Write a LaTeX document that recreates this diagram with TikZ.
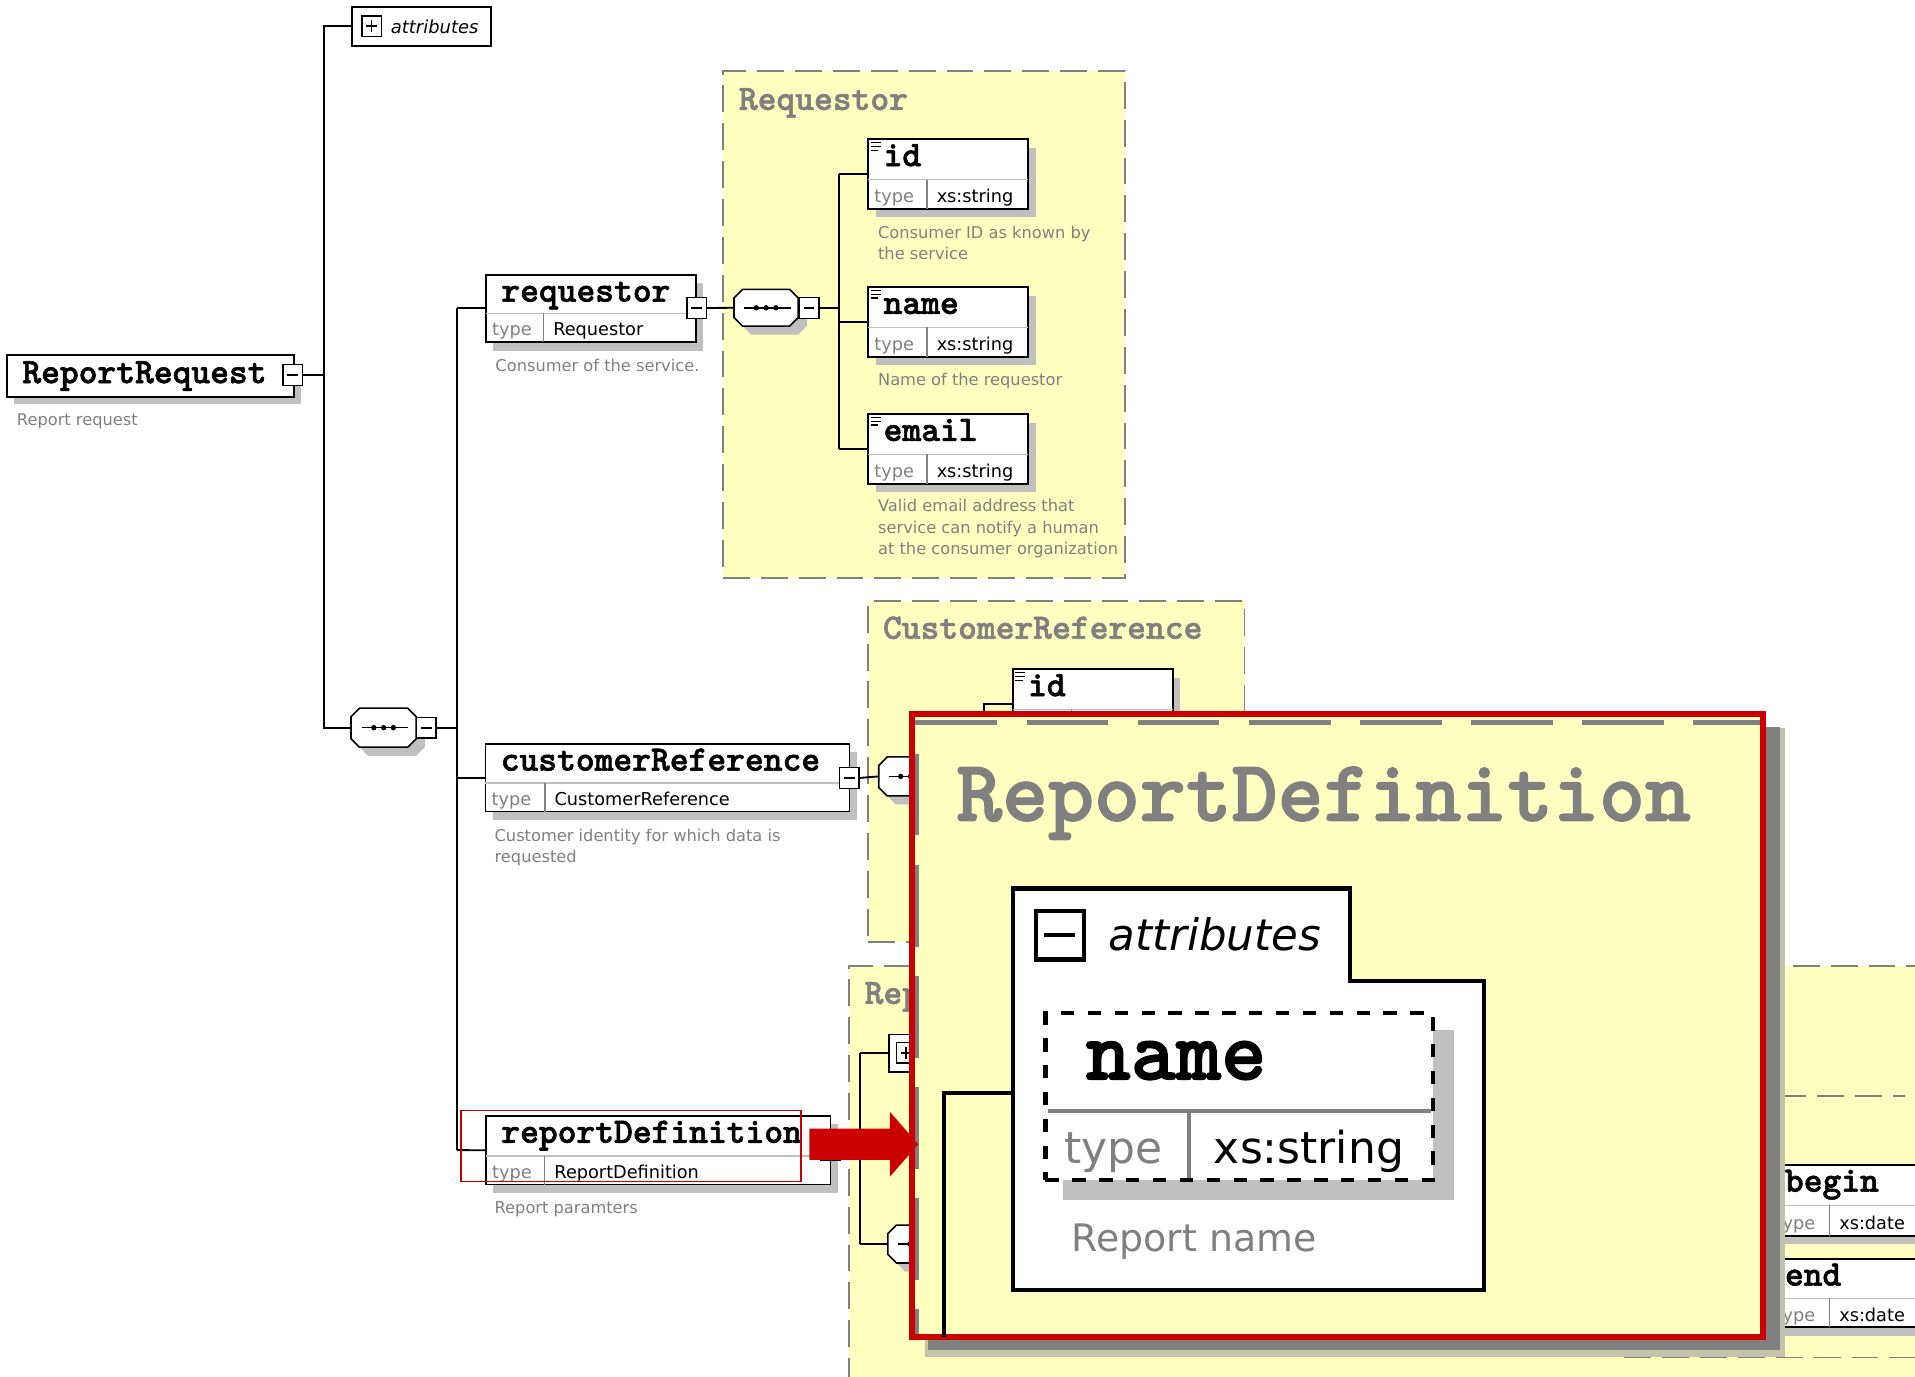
\documentclass[tikz,border=0pt]{standalone}
\usepackage{fontspec}
\setmainfont{DejaVu Sans}[ItalicFont={DejaVu Sans Oblique}]
\newfontfamily\slab{lmmonolt10-bold.otf}[FakeBold=1.6]
\usetikzlibrary{arrows.meta}
\definecolor{ylw}{RGB}{255,255,192}
\definecolor{dgray}{RGB}{128,128,128}
\definecolor{lgray}{RGB}{192,192,192}
\definecolor{zred}{RGB}{204,0,0}
\definecolor{hatch}{RGB}{196,196,170}
\tikzset{
 every node/.style={inner sep=0pt, outer sep=0pt},
 elbox/.style={draw, line width=1.5pt, fill=white, anchor=north west},
 nmtxt/.style={font=\slab\fontsize{29.3}{32}\selectfont, anchor=base west},
 tytxt/.style={font=\fontsize{14.5}{16}\selectfont, text=dgray, anchor=base west},
 tvtxt/.style={font=\fontsize{14.5}{16}\selectfont, text=black, anchor=base west},
 desc/.style={font=\fontsize{13.3}{16}\selectfont, text=dgray, anchor=base west},
 grp/.style={draw=dgray, line width=1.5pt, dash pattern=on 22pt off 9pt, fill=ylw, anchor=north west},
 grptitle/.style={font=\slab\fontsize{29.3}{32}\selectfont, text=dgray, anchor=base west},
 conn/.style={line width=1.5pt},
 pmbox/.style={draw, line width=1.3pt, fill=white, minimum width=16pt, minimum height=17pt},
 octo/.style={draw, line width=1.3pt, fill=white},
 attrbox/.style={draw, line width=1.5pt, fill=white, anchor=north west},
}
\newcommand\minusbox[3]{\node[pmbox] (#1) at (#2,#3) {};\draw[line width=1.3pt] ([xshift=3.5pt]#1.west) -- ([xshift=-3.5pt]#1.east);}
\newcommand\plusbox[3]{\minusbox{#1}{#2}{#3}\draw[line width=1.3pt] ([yshift=3.5pt]#1.south) -- ([yshift=-3.5pt]#1.north);}
\newcommand\fixicon[2]{\draw[line width=0.9pt] ({#1+2},{#2+3}) -- ++(8,0) ({#1+2},{#2+6}) -- ++(8,0) ({#1+2},{#2+9}) -- ++(6,0);}
\newcommand\octa[5]{%
 \fill[lgray] ({#2-#4+14},{#3-#5+7}) -- ({#2+#4},{#3-#5+7}) -- ({#2+#4+7},{#3-#5+14}) -- ({#2+#4+7},{#3+#5}) -- ({#2+#4},{#3+#5+7}) -- ({#2-#4+14},{#3+#5+7}) -- ({#2-#4+7},{#3+#5}) -- ({#2-#4+7},{#3-#5+14}) -- cycle;
 \draw[octo] ({#2-#4+7},{#3-#5}) -- ({#2+#4-7},{#3-#5}) -- ({#2+#4},{#3-#5+7}) -- ({#2+#4},{#3+#5-7}) -- ({#2+#4-7},{#3+#5}) -- ({#2-#4+7},{#3+#5}) -- ({#2-#4},{#3+#5-7}) -- ({#2-#4},{#3-#5+7}) -- cycle;
 \node[minimum width={2*#4pt}, minimum height={2*#5pt}] (#1) at (#2,#3) {};
 \draw[line width=1.3pt] ({#2-18},#3) -- ({#2+20},#3);
 \foreach \d in {-8,0,8} \fill ({#2+\d},#3) circle (2.2);
}
\newcommand\elemtwo[9]{%
 \fill[lgray] ({#2+6},{#3+7}) rectangle ({#2+#4+6},{#3+#5+7});
 \node[elbox, minimum width=#4pt, minimum height=#5pt] (#1) at (#2,#3) {};
 \draw[lgray, line width=1.2pt] ({#2},{#3+#6}) -- ({#2+#4},{#3+#6});
 \draw[dgray, line width=1.2pt] ({#2+#7},{#3+#6}) -- ({#2+#7},{#3+#5});
 \node[nmtxt] (#1n) at ({#2+12.5},{#3+22}) {#8};
 \node[tytxt] (#1t) at ({#2+5},{#3+#5-5}) {type};
 \node[tvtxt] (#1v) at ({#2+#7+8},{#3+#5-5}) {#9};
}
\begin{document}
\begin{tikzpicture}[x=1pt,y=-1pt]
\useasboundingbox (0,0) rectangle (1568,1127);
\clip (0,0) rectangle (1568,1127);
\fill[white] (0,0) rectangle (1568,1127);

% ---------- type groups ----------
\node[grp, minimum width=329pt, minimum height=415pt] (gReq) at (592,58) {};
\node[grptitle] (gReqT) at (605,90) {Requestor};
\node[grp, minimum width=308pt, minimum height=279pt] (gCust) at (711,492) {};
\node[grptitle] (gCustT) at (723,523) {CustomerReference};
\node[grp, minimum width=1000pt, minimum height=500pt] (gRep) at (695,791) {};
\node[grptitle] (gRepT) at (708,822) {Rep};
\coordinate (inA) at (1457,897.4); \coordinate (inB) at (1560,897.4);
\draw[dgray, line width=1.5pt, dash pattern=on 22pt off 9pt] (inA) -- (inB);
\coordinate (inC) at (1330,1111.5); \coordinate (inD) at (1568,1111.5);
\draw[dgray, line width=1.5pt, dash pattern=on 22pt off 9pt] (inC) -- (inD);

% ---------- root ----------
\node[attrbox, minimum width=114pt, minimum height=32pt] (attrTop) at (288,5.5) {};
\plusbox{attrTopP}{304.3}{21.5}
\node[font=\itshape\fontsize{14.7}{16}\selectfont, anchor=base west] (attrTopT) at (320,27.3) {attributes};

\fill[lgray] (11.5,298) rectangle (246.6,331);
\node[elbox, minimum width=235pt, minimum height=34pt] (rr) at (5.5,291) {};
\node[nmtxt] (rrn) at (18.3,313.7) {ReportRequest};
\minusbox{rrm}{239.6}{307}
\node[desc] (rrd) at (13.9,348) {Report request};

\octa{seqM}{314.1}{595.8}{26.7}{16}
\minusbox{seqMm}{349.1}{595.9}

% ---------- children of the root sequence ----------
\elemtwo{req}{398}{225}{172}{55}{31.6}{47}{requestor}{Requestor}
\minusbox{reqm}{570.5}{252.2}
\node[desc] (reqd) at (405.7,304.3) {Consumer of the service.};

\elemtwo{cr}{397.5}{609}{298}{55.5}{32.3}{48.6}{customerReference}{CustomerReference}
\minusbox{crm}{695.3}{637}
\node[desc] (crd1) at (405,689) {Customer identity for which data is};
\node[desc] (crd2) at (405,706) {requested};

\elemtwo{rd}{398}{913.7}{282}{56.2}{33}{48}{reportDefinition}{ReportDefinition}
\minusbox{rdm}{680}{941.7}
\node[desc] (rdd) at (405,994) {Report paramters};

% ---------- Requestor content ----------
\octa{seqR}{627.3}{252}{26.3}{15}
\minusbox{seqRm}{662.4}{252.2}
\elemtwo{rid}{711}{114}{131}{57}{33}{48}{id}{xs:string}\fixicon{711}{114}
\elemtwo{rnm}{711}{235}{131}{57}{33}{48}{name}{xs:string}\fixicon{711}{235}
\elemtwo{rem}{711}{339}{131}{57}{33}{48}{email}{xs:string}\fixicon{711}{339}
\node[desc] (ridd1) at (719,195) {Consumer ID as known by};
\node[desc] (ridd2) at (719,212.5) {the service};
\node[desc] (rnmd) at (719,315.5) {Name of the requestor};
\node[desc] (remd1) at (719,419) {Valid email address that};
\node[desc] (remd2) at (719,436.5) {service can notify a human};
\node[desc] (remd3) at (719,454) {at the consumer organization};

% ---------- CustomerReference content ----------
\octa{seqC}{745.5}{635.7}{26}{16}
\elemtwo{cid}{829.3}{548}{131.2}{57}{33}{48}{id}{xs:string}\fixicon{829.3}{548}

% ---------- ReportDefinition content ----------
\node[attrbox, minimum width=114pt, minimum height=31pt] (rdA) at (728,847) {};
\plusbox{rdAp}{742}{862}
\octa{seqD}{753}{1018.6}{26}{15.5}
\elemtwo{bg}{1449}{953.7}{200}{58}{33.3}{49}{begin}{xs:date}
\elemtwo{en}{1449}{1030.6}{200}{56.2}{32.4}{49}{end}{xs:date}

% ---------- connectors ----------
\coordinate (v1t) at (265,21.5);
\coordinate (v1b) at (265,595.8);
\draw[conn] (attrTop.west) -- (v1t) -- (v1b) -- (seqM.west);
\draw[conn] (rrm.east) -- (rrm.east -| v1t);
\coordinate (v2t) at (374,252.5);
\coordinate (v2b) at (374,941.7);
\draw[conn] (seqMm.east) -- (seqMm.east -| v2t);
\draw[conn] (v2t) -- (v2b);
\draw[conn] (v2t) -- (req.west);
\draw[conn] (cr.west -| v2t) -- (cr.west);
\draw[conn] (v2b) -- (rd.west);
\draw[conn] (reqm.east) -- (seqR.west);
\coordinate (v3t) at (687,142.5);
\coordinate (v3b) at (687,367.5);
\draw[conn] (seqRm.east) -- (seqRm.east -| v3t);
\draw[conn] (v3t) -- (v3b);
\draw[conn] (v3t) -- (rid.west);
\draw[conn] (rnm.west -| v3t) -- (rnm.west);
\draw[conn] (v3b) -- (rem.west);
\draw[conn] (crm.east) -- (seqC.west);
\coordinate (v4b) at (805.7,640);
\draw[conn] (v4b) |- (cid.west);
\coordinate (v5t) at (704.3,862.5);
\coordinate (v5b) at (704.3,1018.6);
\draw[conn] (rdm.east) -- (rdm.east -| v5t);
\draw[conn] (v5t) -- (v5b);
\draw[conn] (v5t) -- (rdA.west);
\draw[conn] (v5b) -- (seqD.west);

% highlight of the reportDefinition element
\node[draw=zred, line width=1.2pt, minimum width=278.5pt, minimum height=58pt, anchor=north west] (hl) at (377.5,909.3) {};

% ---------- magnified view ----------
\fill[hatch] (757,1097) rectangle (1461.6,1110.9);
\fill[hatch] (1446,596) rectangle (1461.6,1110.9);
\fill[dgray] (760,1097) rectangle (1457.5,1105.4);
\fill[dgray] (1446,595.6) rectangle (1457.5,1105.4);
\node[draw=zred, line width=5pt, fill=ylw, anchor=north west, minimum width=696.8pt, minimum height=509.7pt] (zb) at (747,584.8) {};
\coordinate (zdA) at (749.5,591.5); \coordinate (zdB) at (1441,591.5);
\draw[dgray, line width=3.5pt, dash pattern=on 67pt off 24pt] (zdA) -- (zdB);
\coordinate (zdC) at (750.8,617); \coordinate (zdD) at (750.8,1092);
\draw[dgray, line width=2.6pt, dash pattern=on 67pt off 24pt] (zdC) -- (zdD);
\node[font=\slab\fontsize{71.6}{80}\selectfont, text=dgray, anchor=base west] (zt) at (783,672) {ReportDefinition};
\draw[line width=3.5pt, fill=white] (829.3,727.4) -- (1105.5,727.4) -- (1105.5,803.5) -- (1215.3,803.5) -- (1215.3,1056.4) -- (829.3,1056.4) -- cycle;
\coordinate (tabL) at (829.3,895.2);
\node[draw, line width=3.5pt, fill=white, minimum width=39.4pt, minimum height=39.5pt] (zm) at (867.7,765.8) {};
\draw[line width=3.5pt] ([xshift=7pt]zm.west) -- ([xshift=-7pt]zm.east);
\node[font=\itshape\fontsize{35.6}{40}\selectfont, anchor=base west] (za) at (907.7,778.4) {attributes};
\fill[lgray] (870,843.4) rectangle (1190.3,982.7);
\node[draw, dash pattern=on 11pt off 11pt, line width=3.5pt, fill=white, minimum width=317.6pt, minimum height=136.5pt, anchor=north west] (zn) at (856,829.7) {};
\draw[dgray, line width=2.7pt] (857.7,909.7) -- (1171.8,909.7);
\draw[dgray, line width=2.7pt] (973.6,909.7) -- (973.6,964.5);
\node[font=\slab\fontsize{70.5}{80}\selectfont, anchor=base west] (znn) at (888.9,883.8) {name};
\node[font=\fontsize{36}{40}\selectfont, text=dgray, anchor=base west] (znt) at (871.7,952.5) {type};
\node[font=\fontsize{36}{40}\selectfont, anchor=base west] (znv) at (994,952.5) {xs:string};
\node[font=\fontsize{31}{36}\selectfont, text=dgray, anchor=base west] (znd) at (877.4,1024.9) {Report name};
\coordinate (zc) at (772.9,1094.5);
\draw[line width=3.5pt] (zc) |- (tabL);

% ---------- pointer arrow ----------
\coordinate (arE) at (751.9,936.9);
\draw[zred, line width=25.7pt, -{Triangle[length=23.2pt,width=51.6pt]}] ([xshift=6.8pt,yshift=1.4pt]hl.east) -- (arE);
\end{tikzpicture}
\end{document}
